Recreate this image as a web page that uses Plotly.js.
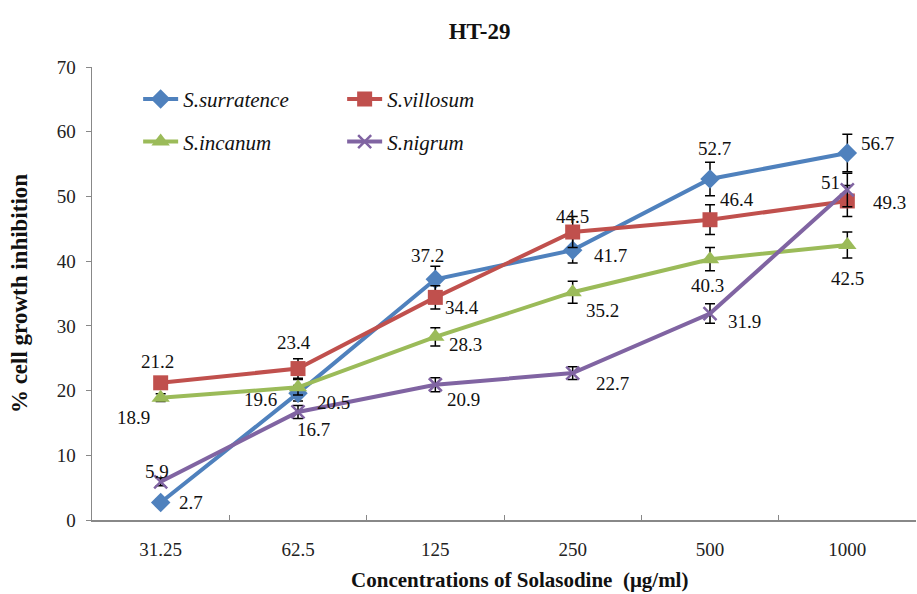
<!DOCTYPE html>
<html><head><meta charset="utf-8">
<script src="https://cdn.plot.ly/plotly-3.0.1.min.js"></script>
<style>html,body{margin:0;padding:0;background:#fff}</style>
</head><body>
<div id="chart" style="width:917px;height:594px"></div>
<script>
const categories = ['31.25', '62.5', '125', '250', '500', '1000'];
const seriesNames = ['S.surratence', 'S.villosum', 'S.incanum', 'S.nigrum'];
const surratence = [2.7, 19.6, 37.2, 41.7, 52.7, 56.7];
const villosum   = [21.2, 23.4, 34.4, 44.5, 46.4, 49.3];
const incanum    = [18.9, 20.5, 28.3, 35.2, 40.3, 42.5];
const nigrum     = [5.9, 16.7, 20.9, 22.7, 31.9, 51];
const errSurratence = [0.5, 1.2, 2.0, 2.0, 2.6, 2.9];
const errVillosum   = [0.6, 1.5, 1.8, 2.4, 2.3, 2.4];
const errIncanum    = [0.6, 1.2, 1.4, 1.7, 1.8, 2.0];
const errNigrum     = [0.6, 1.0, 1.1, 1.0, 1.5, 2.6];

// label offsets in pixels [dx, dy] (screen, dy down)
const offSurratence = [[30,0],[-38,6],[-8,-24],[38,5],[4,-30],[30,-10]];
const offVillosum   = [[-3,-21],[-4,-26],[27,10],[0,-16],[27,-20],[42,2]];
const offIncanum    = [[-27,20],[35,15],[30,8],[30,18],[-3,26],[0,34]];
const offNigrum     = [[-4,-10],[15,18],[28,15],[40,10],[34,8],[-17,-7]];

const colors = ['#4F81BD', '#C0504D', '#9BBB59', '#8064A2'];
const symbols = ['diamond', 'square', 'triangle-up', 'x-thin'];
const sizes = [15, 15, 16, 13];
const values = [surratence, villosum, incanum, nigrum];
const errs = [errSurratence, errVillosum, errIncanum, errNigrum];
const offs = [offSurratence, offVillosum, offIncanum, offNigrum];
const legends = ['legend', 'legend', 'legend2', 'legend2'];

const font = 'Liberation Serif';

const traces = values.map((v, i) => ({
  x: categories, y: v, type: 'scatter', mode: 'lines+markers',
  name: '<i>' + seriesNames[i] + '</i>',
  legend: legends[i],
  line: {color: colors[i], width: 4},
  marker: {symbol: symbols[i], size: sizes[i], color: colors[i],
           line: {color: colors[i], width: i === 3 ? 2.5 : 0}},
  error_y: {type: 'data', array: errs[i], visible: true, color: '#000', thickness: 1.5, width: 5}
}));

const annotations = [];
values.forEach((v, i) => {
  v.forEach((val, j) => {
    annotations.push({
      x: j, y: val, xref: 'x', yref: 'y',
      text: String(val), showarrow: false,
      xshift: offs[i][j][0], yshift: -offs[i][j][1],
      font: {family: font, size: 19, color: '#111'}
    });
  });
});

const legendFont = {family: font, size: 21, color: '#111'};

const layout = {
  width: 917, height: 594,
  margin: {l: 92, r: 1, t: 67, b: 74},
  paper_bgcolor: '#fff', plot_bgcolor: '#fff',
  font: {family: font, size: 19, color: '#222'},
  title: {text: '<b>HT-29</b>', x: 0.523, xanchor: 'center', y: 0.948, yanchor: 'middle',
          font: {family: font, size: 23, color: '#111'}},
  showlegend: true,
  legend: {orientation: 'h', x: 0.056, y: 0.974, xanchor: 'left', yanchor: 'top',
           entrywidth: 154, itemwidth: 35, font: legendFont, bgcolor: 'rgba(0,0,0,0)'},
  legend2: {orientation: 'h', x: 0.056, y: 0.880, xanchor: 'left', yanchor: 'top',
           entrywidth: 154, itemwidth: 35, font: legendFont, bgcolor: 'rgba(0,0,0,0)'},
  xaxis: {type: 'category', range: [-0.5, 5.5], showgrid: false, zeroline: false,
          showline: true, linecolor: '#888', linewidth: 1.5,
          ticks: 'inside', tickson: 'boundaries', ticklen: 5, tickcolor: '#888',
          ticklabelstandoff: 12,
          tickfont: {family: font, size: 19, color: '#222'},
          title: {text: '&nbsp;&nbsp;&nbsp;&nbsp;&nbsp;&nbsp;<b>Concentrations of Solasodine  (μg/ml)</b>', standoff: 13,
                  font: {family: font, size: 21, color: '#111'}}},
  yaxis: {range: [0, 70], dtick: 10, showgrid: false, zeroline: false,
          showline: true, linecolor: '#888', linewidth: 1.5,
          ticks: 'outside', ticklen: 5, tickcolor: '#888',
          ticklabelstandoff: 6,
          tickfont: {family: font, size: 19, color: '#222'},
          title: {text: '<b>% cell growth inhibition</b>', standoff: 22,
                  font: {family: font, size: 23, color: '#111'}}},
  annotations: annotations
};

Plotly.newPlot('chart', traces, layout, {displayModeBar: false, staticPlot: true});
</script>
</body></html>
